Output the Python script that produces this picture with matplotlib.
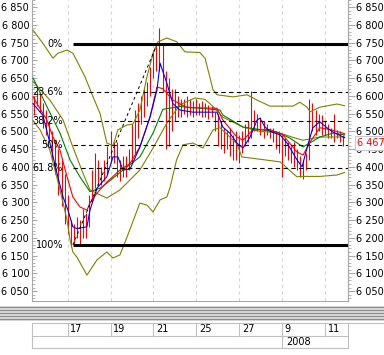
import matplotlib
matplotlib.use("Agg")
import matplotlib.pyplot as plt
from matplotlib.ticker import MultipleLocator, FuncFormatter
from matplotlib.lines import Line2D
from matplotlib.patches import Rectangle
import matplotlib.transforms as mtrans

# date labels under the chart (bar index of each grid line)
date_lbl = ["17", "19", "21", "25", "27", "9", "11"]
date_idx = [11, 25, 39, 53, 67, 81, 95]
year_lbl = "2008"
year_idx = 81

# price bars (high / low)
bar_high = [6600, 6615, 6610, 6580, 6560, 6530, 6500, 6470, 6450, 6420,
            6380, 6320, 6250, 6240, 6260, 6250, 6280, 6270, 6320, 6390,
            6440, 6420, 6400, 6420, 6460, 6500, 6470, 6470, 6420, 6430,
            6430, 6450, 6520, 6560, 6580, 6600, 6620, 6640, 6680, 6730,
            6745, 6790, 6745, 6670, 6650, 6620, 6620, 6600, 6590, 6590,
            6600, 6590, 6585, 6590, 6580, 6585, 6580, 6575, 6570, 6555,
            6550, 6530, 6510, 6500, 6510, 6490, 6500, 6490, 6500, 6520,
            6530, 6615, 6560, 6550, 6540, 6530, 6520, 6510, 6510, 6500,
            6500, 6490, 6480, 6470, 6460, 6470, 6450, 6430, 6420, 6440,
            6590, 6580, 6560, 6550, 6545, 6530, 6520, 6510, 6550, 6505,
            6500, 6490]
bar_low = [6545, 6570, 6555, 6510, 6490, 6470, 6420, 6380, 6320, 6290,
           6240, 6210, 6175, 6180, 6200, 6180, 6200, 6200, 6230, 6300,
           6340, 6345, 6350, 6360, 6380, 6410, 6410, 6370, 6360, 6370,
           6370, 6390, 6410, 6440, 6480, 6520, 6540, 6570, 6600, 6650,
           6670, 6670, 6610, 6450, 6460, 6500, 6530, 6540, 6540, 6550,
           6540, 6545, 6540, 6545, 6545, 6540, 6540, 6535, 6540, 6500,
           6460, 6450, 6440, 6450, 6430, 6420, 6420, 6410, 6440, 6460,
           6470, 6480, 6500, 6500, 6490, 6480, 6490, 6480, 6470, 6450,
           6440, 6370, 6430, 6420, 6410, 6400, 6390, 6370, 6365, 6390,
           6420, 6500, 6490, 6500, 6490, 6490, 6480, 6480, 6470, 6480,
           6470, 6460]
last_price = 6467.2

# indicator lines, sampled at bar positions
fast_x = [-0.3, 2.9, 5.2, 7.5, 9.5, 11.1, 12.7, 14.0, 17.3, 18.3, 20.6, 23.8,
          25.8, 27.4, 29.1, 31.4, 34.6, 37.9, 40.2, 41.2, 43.4, 45.4, 47.7,
          51.9, 59.8, 61.7, 64.0, 66.3, 68.3, 70.6, 72.9, 73.8, 75.5, 77.1,
          80.4, 82.7, 85.9, 87.6, 89.2, 91.1, 93.4, 95.7, 97.7, 101.5]
fast_y = [6578, 6545, 6467, 6382, 6315, 6278, 6231, 6226, 6231, 6278, 6340, 6372,
          6428, 6428, 6391, 6394, 6456, 6540, 6617, 6692, 6636, 6578, 6560,
          6554, 6554, 6512, 6495, 6467, 6453, 6484, 6532, 6537, 6512, 6500,
          6490, 6467, 6420, 6400, 6453, 6510, 6527, 6510, 6498, 6482]

mid_x = [-0.3, 1.0, 4.2, 6.2, 8.5, 10.8, 12.7, 15.0, 17.3, 18.3, 20.6, 23.8,
         28.1, 31.4, 34.6, 37.9, 40.2, 42.1, 45.4, 50.0, 59.8, 61.7, 66.3,
         68.3, 71.5, 77.1, 81.3, 85.9, 87.9, 90.2, 93.4, 96.7, 100.9, 101.5]
mid_y = [6597, 6578, 6532, 6484, 6447, 6372, 6315, 6287, 6278, 6298, 6326, 6357,
         6391, 6410, 6456, 6540, 6625, 6620, 6588, 6567, 6565, 6532, 6484,
         6475, 6504, 6505, 6490, 6442, 6433, 6470, 6510, 6505, 6495, 6493]

slow_x = [-0.3, 4.2, 8.5, 11.8, 15.0, 18.3, 21.6, 23.8, 29.1, 34.6, 38.9, 42.1,
          47.7, 60.8, 61.7, 68.3, 79.4, 83.6, 87.9, 93.4, 97.7, 101.5]
slow_y = [6650, 6570, 6495, 6419, 6372, 6330, 6340, 6354, 6391, 6428, 6495, 6562,
          6570, 6560, 6546, 6512, 6498, 6481, 6456, 6484, 6495, 6490]

bb_mid_x = [-0.3, 5.2, 9.5, 12.7, 16.0, 18.3, 21.6, 23.8, 28.1, 34.6, 38.9, 43.4,
            47.7, 52.6, 55.9, 58.5, 61.7, 68.3, 73.8, 80.4, 84.6, 87.9, 93.4, 101.5]
bb_mid_y = [6640, 6588, 6532, 6456, 6382, 6335, 6321, 6312, 6335, 6391, 6453, 6523,
            6575, 6594, 6590, 6570, 6540, 6512, 6500, 6495, 6483, 6475, 6484, 6484]

bb_up_x = [-0.3, 2.9, 6.2, 7.8, 10.8, 12.7, 14.4, 16.7, 19.3, 21.6, 23.8, 25.8,
           27.4, 30.4, 32.3, 34.6, 36.9, 38.9, 40.5, 43.4, 46.7, 49.3, 54.2,
           55.9, 58.5, 59.8, 65.0, 69.6, 72.9, 77.1, 84.6, 86.9, 89.2, 90.2,
           93.4, 99.0, 101.5]
bb_up_y = [6785, 6748, 6706, 6720, 6729, 6720, 6692, 6653, 6597, 6550, 6467, 6460,
           6504, 6518, 6520, 6560, 6653, 6720, 6752, 6763, 6752, 6724, 6722,
           6706, 6617, 6603, 6597, 6603, 6588, 6571, 6571, 6582, 6568, 6555,
           6568, 6577, 6572]

bb_lo_x = [-0.3, 2.0, 5.2, 8.5, 10.8, 11.8, 12.7, 14.0, 17.3, 20.6, 23.8, 25.8,
           28.1, 30.4, 34.6, 36.9, 38.9, 41.2, 43.4, 44.4, 46.6, 48.7, 51.9,
           55.2, 58.5, 60.8, 66.3, 67.9, 80.4, 85.9, 87.9, 93.4, 99.0, 101.5]
bb_lo_y = [6530, 6504, 6447, 6335, 6250, 6194, 6160, 6146, 6095, 6138, 6160, 6143,
           6152, 6202, 6298, 6292, 6273, 6307, 6315, 6340, 6420, 6462, 6467,
           6453, 6504, 6510, 6465, 6428, 6414, 6372, 6373, 6373, 6377, 6384]

# fibonacci retracement drawn from the low to the high
fib_lbl = ["0%", "23.6%", "38.2%", "50%", "61.8%", "100%"]
fib_val = [6745, 6612, 6529, 6462, 6396, 6180]
fib_start = 12.7
fib_end = 40.2

W, H = 384, 355
fig = plt.figure(figsize=(W / 100, H / 100), dpi=100)
plt.rcParams['font.family'] = ['DejaVu Sans']
fs = 7
grey = "#a8a8a8"

ax = fig.add_axes([32 / W, 54 / H, 316 / W, 301 / H])
ax.set_xlim(-0.65, 102.6)
ax.set_ylim(6022, 6870)

ax.set_xticks(date_idx)
ax.tick_params(axis='x', length=0, labelbottom=False)
ax.grid(axis='x', color="#d4d4d4", linestyle=(0, (3, 3)), linewidth=0.8)
ax.set_axisbelow(True)

fmt = FuncFormatter(lambda v, p: f"{int(v):,}".replace(",", " "))
ax.yaxis.set_major_locator(MultipleLocator(50))
ax.yaxis.set_minor_locator(MultipleLocator(10))
ax.yaxis.set_major_formatter(fmt)
ax.tick_params(axis='y', which='major', direction='in', length=3.6, color=grey,
               labelsize=fs, pad=2)
ax.tick_params(axis='y', which='minor', direction='in', length=2.2, color=grey)
for s in ["left", "right", "bottom"]:
    ax.spines[s].set_color(grey)
ax.spines["top"].set_visible(False)

ax2 = ax.twinx()
ax2.set_ylim(ax.get_ylim())
ax2.yaxis.set_major_locator(MultipleLocator(50))
ax2.yaxis.set_minor_locator(MultipleLocator(10))
ax2.yaxis.set_major_formatter(fmt)
ax2.tick_params(axis='y', which='major', direction='out', length=5, color=grey,
                labelsize=fs, pad=1)
ax2.tick_params(axis='y', which='minor', direction='out', length=2.2, color=grey)
for s in ["left", "top", "bottom"]:
    ax2.spines[s].set_visible(False)
ax2.spines["right"].set_color(grey)

# bars
ax.vlines(range(len(bar_high)), bar_low, bar_high, color="#ff0000", linewidth=0.8, zorder=2)

# indicators
ax.plot(bb_up_x, bb_up_y, color="#808000", lw=0.8, zorder=3)
ax.plot(bb_lo_x, bb_lo_y, color="#808000", lw=0.8, zorder=3)
ax.plot(bb_mid_x, bb_mid_y, color="#808000", lw=0.8, zorder=3)
ax.plot(slow_x, slow_y, color="#008000", lw=0.8, zorder=3)
ax.plot(mid_x, mid_y, color="#ff0000", lw=0.8, zorder=3)
ax.plot(fast_x, fast_y, color="#0000ff", lw=0.8, zorder=4)

# fibonacci
x_right = ax.get_xlim()[1]
for lbl, v in zip(fib_lbl, fib_val):
    if lbl in ("0%", "100%"):
        ax.plot([fib_start, x_right], [v, v], color="black", lw=2.2,
                solid_capstyle="butt", zorder=5)
    else:
        ax.plot([fib_start, x_right], [v, v], color="black", lw=0.8,
                linestyle=(0, (4, 3)), zorder=5)
    ax.text(fib_start - 3.2, v, lbl, ha="right", va="center", fontsize=fs, zorder=6)
ax.plot([fib_start, fib_end], [fib_val[-1], fib_val[0]], color="black", lw=0.7,
        linestyle=(0, (3, 3)), zorder=5)

# last price marker
tr = mtrans.blended_transform_factory(fig.transFigure, ax.transData)
fig.text(357 / W, last_price, f"{last_price:,.1f}".replace(",", " ").replace(".", ","),
         transform=tr, color="#ff0000", fontsize=fs, va="center", ha="left",
         bbox=dict(boxstyle="square,pad=0.25", fc="white", ec="#c8c8c8", lw=0.8),
         zorder=10)

# splitter band
fig.patches.append(Rectangle((0, 1 - 321 / H), 1, 15 / H, transform=fig.transFigure,
                             facecolor="#d9d9d9", edgecolor="none"))
for yy in [307, 310, 313, 316, 319]:
    fig.lines.append(Line2D([0, 1], [1 - yy / H, 1 - yy / H], transform=fig.transFigure,
                            color="#8c8c8c", lw=0.8))

# date table
tab = fig.add_axes([32 / W, 1 - 348 / H, 316 / W, 25 / H])
tab.set_xlim(ax.get_xlim())
tab.set_ylim(0, 2)
tab.axis("off")
lc = "#c0c0c0"
x0, x1 = tab.get_xlim()
tab.plot([x0, x1], [0, 0], color=lc, lw=0.8, clip_on=False)
tab.plot([x0, x1], [1, 1], color=lc, lw=0.8, clip_on=False)
tab.plot([x0, x0], [0, 2], color=lc, lw=0.8, clip_on=False)
tab.plot([x1, x1], [0, 2], color=lc, lw=0.8, clip_on=False)
fig.lines.append(Line2D([32 / W, 1], [1 - 323 / H, 1 - 323 / H], transform=fig.transFigure,
                        color=lc, lw=0.8))
for lbl, xi in zip(date_lbl, date_idx):
    tab.plot([xi, xi], [1, 2], color=lc, lw=0.8)
    tab.text(xi + 0.9, 1.5, lbl, ha="left", va="center", fontsize=fs)
tab.plot([year_idx, year_idx], [0, 1], color=lc, lw=0.8)
tab.text(year_idx + 1.4, 0.5, year_lbl, ha="left", va="center", fontsize=fs)

fig.savefig("out.png", dpi=100)
